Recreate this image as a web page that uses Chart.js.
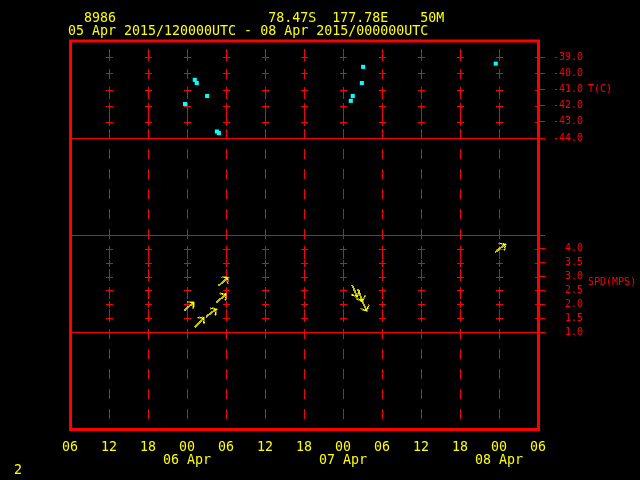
<!DOCTYPE html>
<html>
<head>
<meta charset="utf-8">
<script src="https://cdn.jsdelivr.net/npm/chart.js@4.4.1/dist/chart.umd.min.js"></script>
<style>
  html, body { margin: 0; padding: 0; background: #000; }
  #wrap { width: 640px; height: 480px; }
</style>
</head>
<body>
<div id="wrap"><canvas id="meteogram" width="640" height="480"></canvas></div>
<script>
// x = hours since 05 Apr 2015 06 UTC
const hourTicks = [0, 6, 12, 18, 24, 30, 36, 42, 48, 54, 60, 66, 72];
const hourLabels = ['06', '12', '18', '00', '06', '12', '18', '00', '06', '12', '18', '00', '06'];
const dayLabels = ['', '', '', '06 Apr', '', '', '', '07 Apr', '', '', '', '08 Apr', ''];

const tempTicks = [-44, -43, -42, -41, -40, -39];
const spdTicks = [1.0, 1.5, 2.0, 2.5, 3.0, 3.5, 4.0];

// temperature obs (C)
const tempHours = [17.7, 19.2, 19.5, 21.1, 22.6, 22.9, 43.2, 43.5, 44.9, 45.1, 65.5];
const tempValues = [-41.9, -40.4, -40.6, -41.4, -43.6, -43.7, -41.7, -41.4, -40.6, -39.6, -39.4];

// wind obs: speed (m/s) and direction wind blows from (deg)
const windHours = [17.5, 19.2, 20.9, 22.5, 22.8, 43.4, 44.3, 44.8, 65.4];
const windSpeeds = [1.77, 1.18, 1.55, 2.06, 2.66, 2.70, 2.55, 2.19, 3.88];
const windDirs = [231, 224, 234, 229, 229, 337, 340, 335, 232];

const FONT = 'DejaVu Sans Mono';
const RED = '#ff0000';
const YELLOW = '#ffff00';

// header text
const headerLine1 = '  8986'.padEnd(25) + '78.47S  177.78E    50M';
const headerLine2 = '05 Apr 2015/120000UTC - 08 Apr 2015/000000UTC';

// arrow glyph, tail at the centre, pointing east
function makeArrow() {
  const L = 13;
  const c = document.createElement('canvas');
  c.width = c.height = 2 * L + 4;
  const g = c.getContext('2d');
  const o = L + 2;
  g.strokeStyle = YELLOW;
  g.lineWidth = 1.4;
  g.beginPath();
  g.moveTo(o, o);
  g.lineTo(o + L, o);
  g.moveTo(o + L - 4.5, o - 4.5);
  g.lineTo(o + L, o);
  g.lineTo(o + L - 4.5, o + 4.5);
  g.stroke();
  return c;
}

// small red plus, pixel aligned
function makeCross() {
  const c = document.createElement('canvas');
  c.width = c.height = 10;
  const g = c.getContext('2d');
  g.fillStyle = RED;
  g.fillRect(2, 5, 7, 1);
  g.fillRect(5, 2, 1, 7);
  return c;
}
const crossImg = makeCross();

// + marks on every 6 h column
const crossCols = hourTicks.filter(h => h > 0);
const tempCross = crossCols.flatMap(h => tempTicks.filter(t => t > -44).map(t => ({x: h, y: t})));
const spdCross = crossCols.flatMap(h => spdTicks.filter(s => s > 1).map(s => ({x: h, y: s})));

const decor = {
  id: 'decor',
  beforeDraw(chart) {
    const ctx = chart.ctx;
    ctx.save();
    ctx.fillStyle = '#000';
    ctx.fillRect(0, 0, chart.width, chart.height);
    ctx.restore();
  },
  beforeDatasetsDraw(chart) {
    chart.ctx.imageSmoothingEnabled = false;
  },
  afterDraw(chart) {
    const {ctx, chartArea: a, scales} = chart;
    ctx.save();
    ctx.strokeStyle = RED;
    ctx.lineWidth = 3;
    ctx.strokeRect(a.left + 0.5, a.top, a.right - a.left, a.bottom - a.top);

    ctx.fillStyle = RED;
    ctx.font = '10px "' + FONT + '"';
    ctx.textBaseline = 'middle';
    ctx.textAlign = 'left';
    ctx.fillText('T(C)', 588, scales.yT.getPixelForValue(-41));
    ctx.fillText('SPD(MPS)', 588, scales.ySpd.getPixelForValue(2.8));

    ctx.fillStyle = YELLOW;
    ctx.font = '13.3px "' + FONT + '"';
    ctx.fillText(headerLine1, 68, 19);
    ctx.fillText(headerLine2, 68, 32);
    ctx.fillText('2', 14, 471);
    ctx.restore();
  }
};

const fixWidth = s => { s.width = 102; };

new Chart(document.getElementById('meteogram'), {
  type: 'scatter',
  data: {
    datasets: [
      {
        label: 'T',
        data: tempHours.map((h, i) => ({x: h, y: tempValues[i]})),
        yAxisID: 'yT',
        pointStyle: 'rect',
        pointRadius: 2.9,
        pointBackgroundColor: '#00ffff',
        pointBorderWidth: 0
      },
      {
        label: 'SPD',
        data: windHours.map((h, i) => ({x: h, y: windSpeeds[i]})),
        yAxisID: 'ySpd',
        pointStyle: makeArrow(),
        pointRotation: windDirs.map(d => d + 90),
        pointRadius: 2,
        clip: false
      },
      {
        data: tempCross,
        yAxisID: 'yT',
        pointStyle: crossImg,
        pointRadius: 2
      },
      {
        data: spdCross,
        yAxisID: 'ySpd',
        pointStyle: crossImg,
        pointRadius: 2
      }
    ]
  },
  options: {
    responsive: false,
    animation: false,
    events: [],
    layout: { padding: { left: 70, top: 41, right: 0, bottom: 0 } },
    plugins: {
      legend: { display: false },
      tooltip: { enabled: false }
    },
    scales: {
      x: {
        type: 'linear',
        min: 0,
        max: 72,
        afterBuildTicks: s => { s.ticks = hourTicks.map(v => ({value: v})); },
        ticks: {
          color: YELLOW,
          font: { family: FONT, size: 13.3, lineHeight: 1.0 },
          padding: 11,
          maxRotation: 0,
          autoSkip: false,
          callback: (v, i) => dayLabels[i] ? [hourLabels[i], dayLabels[i]] : hourLabels[i]
        },
        grid: { color: RED, lineWidth: 1, drawTicks: false },
        border: { display: false, dash: [10, 10], dashOffset: 12 },
        afterFit: s => { s.height = 50.5; }
      },
      yT: {
        type: 'linear',
        position: 'right',
        stack: 'panels',
        stackWeight: 97,
        min: -44,
        max: -38,
        afterBuildTicks: s => { s.ticks = tempTicks.map(v => ({value: v})); },
        ticks: {
          color: RED,
          font: { family: FONT, size: 10 },
          padding: 8,
          crossAlign: 'center',
          autoSkip: false,
          callback: v => v.toFixed(1)
        },
        grid: {
          color: c => (c.tick && c.tick.value === -44) ? RED : 'rgba(0,0,0,0)',
          tickColor: RED,
          tickLength: 7
        },
        border: { display: false },
        afterFit: fixWidth
      },
      yGap1: {
        type: 'linear',
        position: 'right',
        stack: 'panels',
        stackWeight: 97,
        min: 0,
        max: 1,
        ticks: { display: false },
        grid: { display: false },
        border: { display: false },
        afterFit: fixWidth
      },
      ySpd: {
        type: 'linear',
        position: 'right',
        stack: 'panels',
        stackWeight: 97,
        min: 1,
        max: 4.5,
        afterBuildTicks: s => { s.ticks = spdTicks.concat([s.max]).map(v => ({value: v})); },
        ticks: {
          color: RED,
          font: { family: FONT, size: 10 },
          padding: 20,
          crossAlign: 'center',
          autoSkip: false,
          callback: v => v > 4.25 ? '' : v.toFixed(1)
        },
        grid: {
          color: c => !c.tick ? 'rgba(0,0,0,0)' : (c.tick.value === 1 ? RED : (c.tick.value === 4.5 ? '#8a3030' : 'rgba(0,0,0,0)')),
          tickColor: RED,
          tickLength: 7
        },
        border: { display: false },
        afterFit: fixWidth
      },
      yGap2: {
        type: 'linear',
        position: 'right',
        stack: 'panels',
        stackWeight: 97.5,
        min: 0,
        max: 1,
        ticks: { display: false },
        grid: { display: false },
        border: { display: false },
        afterFit: fixWidth
      }
    }
  },
  plugins: [decor]
});
</script>
</body>
</html>
